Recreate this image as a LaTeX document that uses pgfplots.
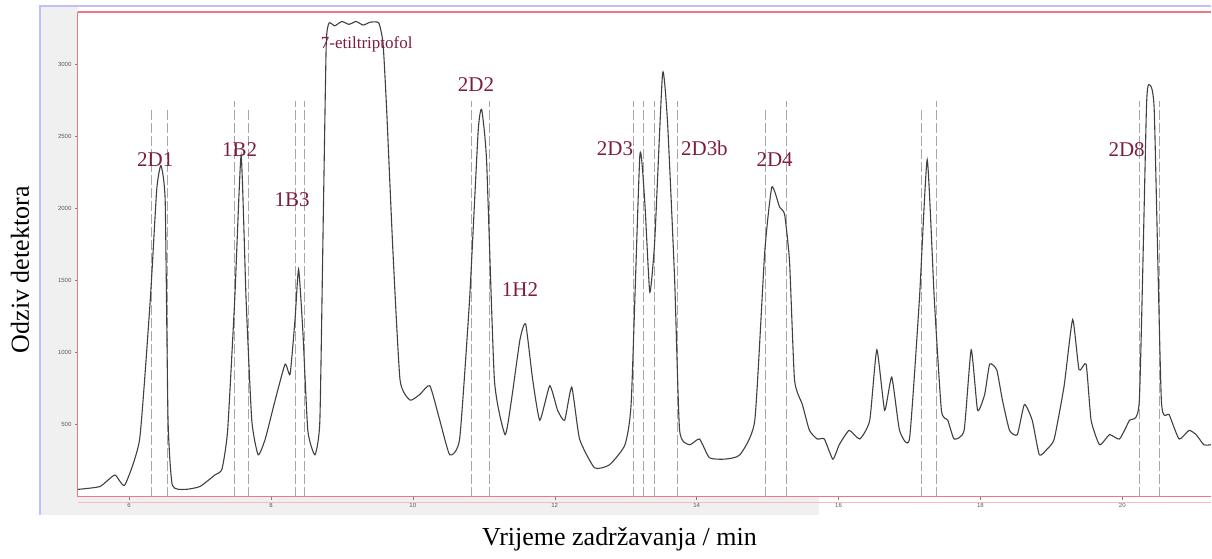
\documentclass[border=0pt]{standalone}
\usepackage{pgfplots}
\pgfplotsset{compat=1.18}
\usepackage{fontspec}
\setmainfont{Liberation Serif}
\newfontfamily\sansf{Liberation Sans}
\definecolor{lab}{RGB}{125,30,60}
\definecolor{frame}{RGB}{235,120,130}
\begin{document}
\begin{tikzpicture}[x=1pt,y=1pt]
\path (0,0) rectangle (1212,559);
\fill[gray!12] (40,44) rectangle (78,553);
\fill[gray!12] (40,44) rectangle (820,62);
\draw[blue!25,line width=2pt] (40,44)--(40,553)--(1212,553);
\begin{axis}[at={(78pt,62pt)},anchor=south west,scale only axis,width=1134pt,height=485pt,
 xmin=5.28,xmax=21.25,ymin=0,ymax=3366,
 axis line style={draw=none},
 xtick={6,8,...,20},ytick={500,1000,...,3000},
 xtick pos=bottom,ytick pos=left,
 tick style={gray,thin},tick align=outside,major tick length=3pt,
 ticklabel style={font=\sansf\fontsize{6}{7}\selectfont,text=gray!70!black},
 /pgf/number format/assume math mode=true,
 /pgf/number format/1000 sep={},
 clip=false]
\draw[frame,line width=1.2pt] (rel axis cs:0,0)--(rel axis cs:1,0);
\draw[frame!50,line width=0.8pt] (rel axis cs:0,-0.012)--(rel axis cs:1,-0.012);
\draw[frame,line width=1.2pt] (rel axis cs:0,1)--(rel axis cs:1,1);
\draw[frame,line width=1pt] (rel axis cs:0,0)--(rel axis cs:0,1);
\foreach \v/\t in {6.32/2700,6.54/2700,7.49/2750,7.68/2700,8.35/2750,8.48/2750,10.83/2750,11.08/2750,13.11/2750,13.25/2750,13.41/2750,13.73/2750,14.97/2700,15.27/2750,17.17/2700,17.38/2750,20.24/2750,20.52/2750}{
 \edef\tmp{\noexpand\draw[gray!70,dashed,dash pattern=on 10pt off 3pt,line width=1pt] (axis cs:\v,0)--(axis cs:\v,\t);}\tmp
}
\addplot[black!75,line width=1.1pt,smooth,tension=0.3] coordinates {
(5.28,50)(5.59,70)(5.80,150)(5.94,80)(6.15,400)(6.30,1370)(6.39,2130)(6.45,2300)(6.51,2050)(6.55,530)(6.61,80)(6.79,50)(7.00,70)(7.21,150)(7.31,190)(7.39,460)(7.49,1370)(7.58,2370)(7.65,1370)(7.73,530)(7.82,290)(7.92,400)(8.06,670)(8.20,920)(8.27,850)(8.34,1230)(8.39,1580)(8.45,1150)(8.52,460)(8.62,290)(8.69,530)(8.74,2000)(8.78,3150)(8.82,3290)(8.9,3270)(9.0,3300)(9.1,3280)(9.2,3300)(9.3,3275)(9.4,3295)(9.52,3290)(9.58,3150)(9.63,2700)(9.72,1700)(9.82,810)(9.96,670)(10.10,710)(10.24,770)(10.38,530)(10.52,290)(10.66,400)(10.80,1370)(10.92,2530)(10.97,2690)(11.04,2330)(11.15,810)(11.30,430)(11.39,670)(11.51,1090)(11.59,1200)(11.69,810)(11.79,530)(11.93,770)(12.04,600)(12.14,530)(12.24,760)(12.35,400)(12.56,200)(12.77,220)(12.99,360)(13.08,670)(13.20,2370)(13.27,2040)(13.34,1420)(13.41,1780)(13.52,2940)(13.59,2600)(13.69,1510)(13.76,460)(13.90,360)(14.04,400)(14.18,270)(14.39,260)(14.61,290)(14.82,530)(14.96,1700)(15.06,2150)(15.17,2010)(15.24,1960)(15.31,1630)(15.38,810)(15.49,640)(15.59,460)(15.70,400)(15.80,400)(15.92,260)(16.01,360)(16.15,460)(16.30,400)(16.44,530)(16.54,1020)(16.65,600)(16.75,830)(16.86,460)(17.00,400)(17.14,1370)(17.25,2340)(17.35,1370)(17.45,600)(17.54,530)(17.63,400)(17.77,460)(17.87,1020)(17.96,600)(18.06,710)(18.13,920)(18.23,880)(18.31,670)(18.41,460)(18.52,430)(18.62,640)(18.73,530)(18.83,290)(18.94,330)(19.04,400)(19.18,770)(19.30,1230)(19.39,880)(19.49,920)(19.56,530)(19.68,360)(19.82,430)(19.96,400)(20.10,530)(20.24,670)(20.34,2700)(20.38,2860)(20.45,2680)(20.55,670)(20.66,570)(20.80,400)(20.94,460)(21.04,430)(21.15,360)(21.25,360)};
\tikzset{pl/.style={text=lab,font=\fontsize{21}{24}\selectfont}}
\node[pl] at (axis cs:6.37,2340) {2D1};
\node[pl] at (axis cs:7.56,2410) {1B2};
\node[pl] at (axis cs:8.30,2060) {1B3};
\node[pl,font=\fontsize{17}{20}\selectfont] at (axis cs:9.35,3140) {7-etiltriptofol};
\node[pl] at (axis cs:10.89,2860) {2D2};
\node[pl] at (axis cs:11.51,1440) {1H2};
\node[pl] at (axis cs:12.85,2420) {2D3};
\node[pl] at (axis cs:14.11,2420) {2D3b};
\node[pl] at (axis cs:15.10,2340) {2D4};
\node[pl] at (axis cs:20.06,2410) {2D8};
\end{axis}
\node[rotate=90,font=\fontsize{26}{30}\selectfont] at (20,289) {Odziv detektora};
\node[font=\fontsize{26}{30}\selectfont] at (620,19) {Vrijeme zadržavanja / min};
\end{tikzpicture}
\end{document}
